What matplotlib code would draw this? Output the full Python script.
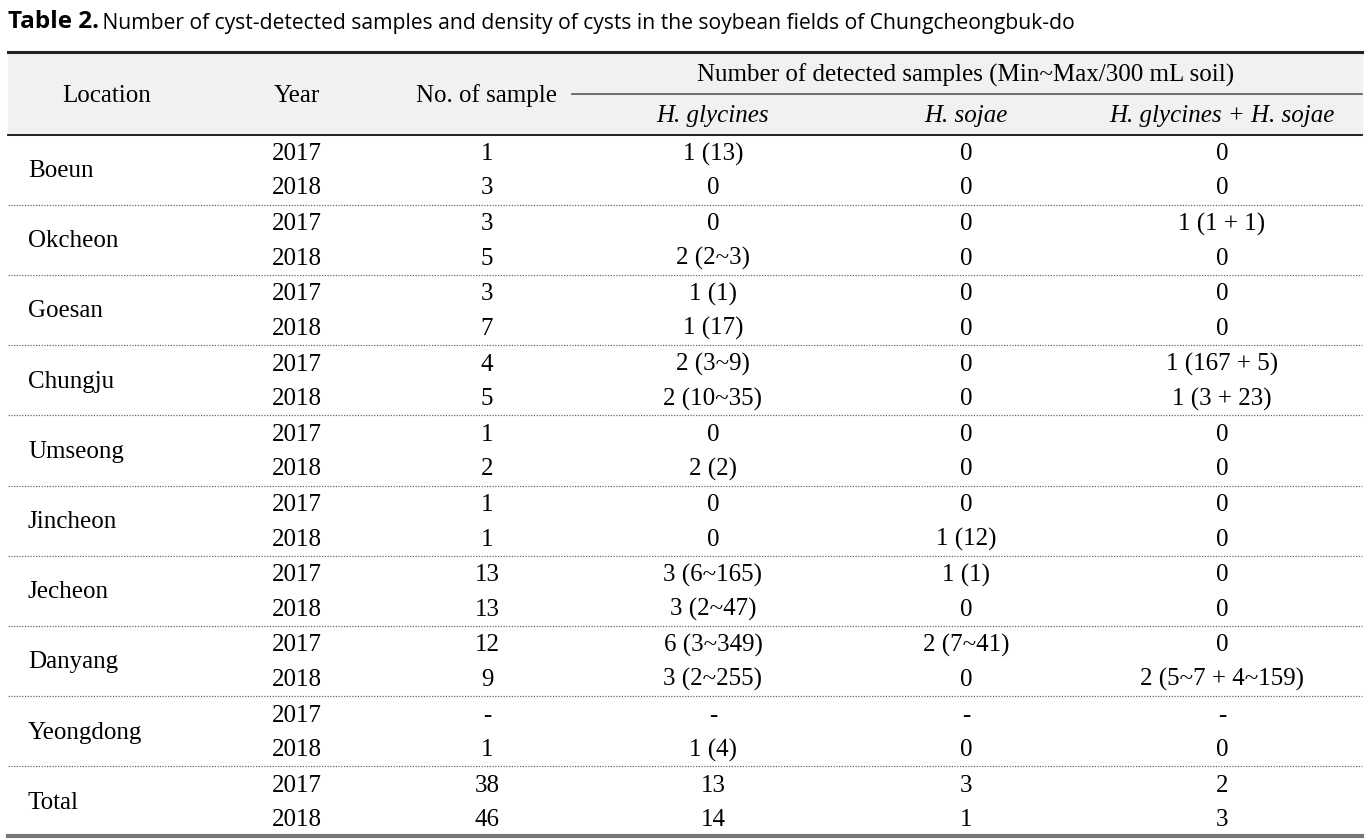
import matplotlib
matplotlib.use("Agg")
import matplotlib.pyplot as plt

# ---- data ----
locations = ["Boeun", "Okcheon", "Goesan", "Chungju", "Umseong", "Jincheon",
             "Jecheon", "Danyang", "Yeongdong", "Total"]
years = ["2017", "2018"]
n_samples = [["1", "3"], ["3", "5"], ["3", "7"], ["4", "5"], ["1", "2"], ["1", "1"],
             ["13", "13"], ["12", "9"], ["-", "1"], ["38", "46"]]
h_glycines = [["1 (13)", "0"], ["0", "2 (2~3)"], ["1 (1)", "1 (17)"], ["2 (3~9)", "2 (10~35)"],
              ["0", "2 (2)"], ["0", "0"], ["3 (6~165)", "3 (2~47)"], ["6 (3~349)", "3 (2~255)"],
              ["-", "1 (4)"], ["13", "14"]]
h_sojae = [["0", "0"], ["0", "0"], ["0", "0"], ["0", "0"], ["0", "0"], ["0", "1 (12)"],
           ["1 (1)", "0"], ["2 (7~41)", "0"], ["-", "0"], ["3", "1"]]
h_both = [["0", "0"], ["1 (1 + 1)", "0"], ["0", "0"], ["1 (167 + 5)", "1 (3 + 23)"],
          ["0", "0"], ["0", "0"], ["0", "0"], ["0", "2 (5~7 + 4~159)"], ["-", "0"], ["2", "3"]]

col_headers = ["Location", "Year", "No. of sample"]
group_header = "Number of detected samples (Min~Max/300 mL soil)"
sub_headers = ["H. glycines", "H. sojae", "H. glycines + H. sojae"]
title_bold = "Table 2."
title_rest = " Number of cyst-detected samples and density of cysts in the soybean fields of Chungcheongbuk-do"

# ---- layout ----
W, H = 1370, 840
fig = plt.figure(figsize=(W / 100, H / 100), dpi=100)
ax = fig.add_axes([0, 0, 1, 1])
ax.set_xlim(0, W)
ax.set_ylim(H, 0)
ax.axis("off")

serif = "Liberation Serif"
fs = 18
x_left, x_right = 8, 1362
col_x = [28, 297, 487, 713, 966, 1222]

# title
t = ax.text(8, 22, title_bold, fontsize=17.5, fontweight="bold", family="Open Sans",
            va="center", ha="left")
fig.canvas.draw()
bb = t.get_window_extent()
inv = ax.transData.inverted()
x_end = inv.transform((bb.x1, bb.y0))[0]
ax.text(x_end - 2, 23, title_rest, fontsize=15.25, family="Open Sans", va="center", ha="left")

# header background
ax.add_patch(plt.Rectangle((x_left, 52), x_right - x_left, 83, color="#f1f1f1", zorder=0))
ax.plot([x_left, x_right], [52, 52], color="#222222", lw=2.2)
ax.plot([572, x_right], [94, 94], color="#555555", lw=1.2)
ax.plot([x_left, x_right], [135, 135], color="#111111", lw=1.3)

ax.text(107, 96, col_headers[0], fontsize=fs, family=serif, ha="center", va="center")
ax.text(297, 96, col_headers[1], fontsize=fs, family=serif, ha="center", va="center")
ax.text(487, 96, col_headers[2], fontsize=fs, family=serif, ha="center", va="center")
ax.text(966, 75, group_header, fontsize=fs, family=serif, ha="center", va="center")
for x, s in zip(col_x[3:], sub_headers):
    ax.text(x, 116, s, fontsize=fs, family=serif, style="italic", ha="center", va="center")

# body
row_top = 134.5
group_h = 70.2
for i, loc in enumerate(locations):
    y0 = row_top + i * group_h
    ys = [y0 + 19.5, y0 + 54]
    ax.text(col_x[0], y0 + 36.5, loc, fontsize=fs, family=serif, ha="left", va="center")
    for j in range(2):
        vals = [years[j], n_samples[i][j], h_glycines[i][j], h_sojae[i][j], h_both[i][j]]
        for x, v in zip(col_x[1:], vals):
            ax.text(x, ys[j], v, fontsize=fs, family=serif, ha="center", va="center")
    if i < len(locations) - 1:
        ax.plot([x_left, x_right], [y0 + group_h, y0 + group_h], color="#666666",
                lw=0.9, ls=(0, (1, 1.2)))

ax.plot([x_left, x_right], [836, 836], color="#777777", lw=3)

fig.savefig("out.png", dpi=100)
